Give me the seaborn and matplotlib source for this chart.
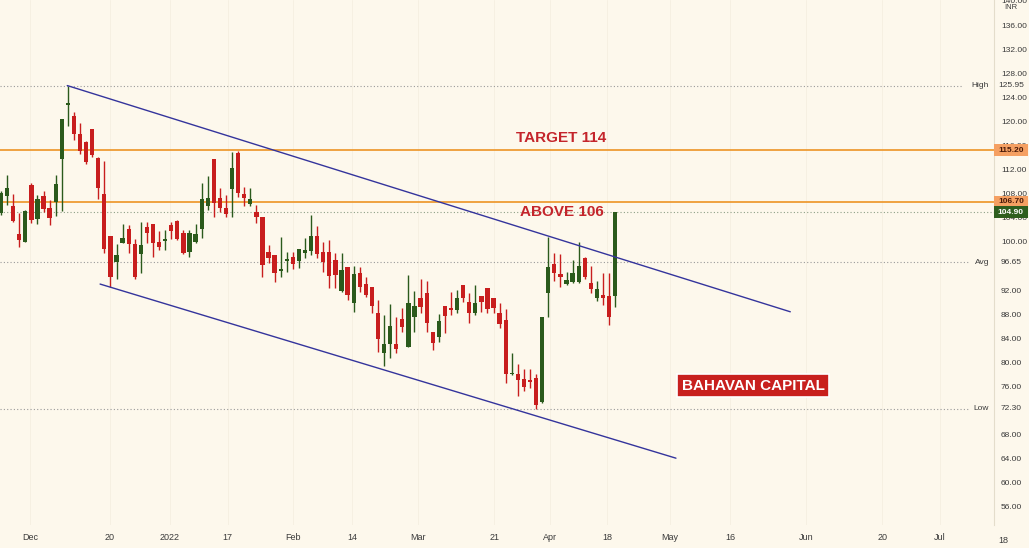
import numpy as np
import pandas as pd
import matplotlib
matplotlib.use("Agg")
import matplotlib.pyplot as plt
import matplotlib.transforms as mtransforms
import matplotlib.patches as mpatches
import seaborn as sns

# ==========================================
# DATOS (velas diarias)
# ==========================================
opens = [104.8, 107.7, 106.0, 101.3, 100.0, 109.4, 103.8, 107.6, 105.6, 106.6,
         113.8, 122.8, 120.9, 117.9, 116.6, 118.7, 113.9, 108.0, 101.0, 96.7,
         99.8, 102.1, 99.6, 98.0, 102.5, 103.0, 100.0, 100.2, 102.8, 103.5,
         101.5, 98.3, 100.0, 102.1, 105.9, 113.8, 107.3, 105.6, 108.8, 114.8,
         108.0, 106.3, 105.0, 104.1, 98.3, 97.8, 95.2, 96.8, 97.5, 96.8,
         98.2, 98.5, 101.0, 98.3, 98.3, 97.0, 91.8, 95.8, 89.9, 94.8,
         93.0, 92.5, 88.2, 81.6, 83.1, 83.1, 87.2, 82.6, 87.5, 90.7,
         91.5, 85.0, 84.2, 89.4, 89.1, 88.7, 92.8, 90.0, 88.2, 91.0,
         92.3, 90.7, 88.2, 87.0, 78.0, 78.1, 77.2, 77.0, 77.4, 73.4,
         91.5, 96.3, 94.7, 93.0, 93.3, 93.3, 97.3, 93.2, 90.7, 91.2,
         91.0, 91.0]
highs = [108.4, 111.1, 108.0, 104.8, 105.3, 109.8, 107.8, 108.4, 107.0, 111.1,
         120.4, 125.95, 121.6, 119.7, 116.7, 118.7, 114.1, 113.4, 101.0, 99.7,
         103.0, 102.8, 100.5, 103.3, 103.3, 103.0, 101.8, 102.0, 103.3, 103.7,
         102.0, 102.0, 103.0, 109.8, 110.9, 113.8, 108.9, 107.8, 114.9, 115.1,
         109.1, 108.9, 106.1, 104.1, 99.5, 97.8, 100.8, 98.3, 98.3, 98.8,
         100.6, 104.5, 102.7, 100.0, 100.3, 98.2, 98.2, 95.8, 96.0, 95.8,
         94.2, 92.5, 90.4, 87.9, 89.7, 87.5, 89.0, 94.5, 91.8, 93.8,
         93.5, 85.0, 88.0, 89.4, 91.7, 92.0, 92.8, 91.5, 92.8, 91.0,
         92.3, 90.7, 89.9, 88.9, 81.6, 79.7, 78.9, 78.9, 78.1, 87.5,
         100.8, 98.2, 98.0, 95.0, 97.0, 100.0, 97.5, 96.0, 93.5, 94.8,
         94.8, 104.9]
lows = [104.5, 106.1, 103.3, 99.2, 100.0, 103.1, 103.0, 105.0, 102.8, 104.3,
        105.1, 119.2, 116.9, 114.6, 112.9, 114.1, 107.2, 98.2, 92.5, 93.8,
        99.8, 98.2, 93.8, 94.8, 99.8, 97.5, 98.7, 98.7, 100.5, 100.3,
        98.0, 97.5, 99.8, 100.6, 105.3, 104.1, 105.0, 104.1, 104.1, 107.5,
        106.0, 106.0, 103.1, 94.2, 96.5, 93.3, 94.2, 95.0, 95.5, 95.7,
        97.3, 97.8, 97.3, 95.0, 92.3, 92.3, 91.7, 90.4, 88.4, 91.7,
        90.9, 88.2, 81.7, 79.4, 80.7, 81.6, 85.0, 82.6, 85.0, 88.2,
        85.0, 82.0, 83.4, 84.9, 87.9, 88.2, 90.0, 86.5, 87.9, 88.4,
        88.2, 88.2, 85.7, 76.6, 77.9, 74.4, 75.3, 75.7, 72.3, 73.2,
        87.6, 93.5, 92.5, 92.8, 93.2, 93.2, 93.8, 91.5, 90.2, 89.5,
        86.2, 89.2]
closes = [108.1, 109.0, 103.5, 100.3, 105.1, 103.6, 107.1, 105.5, 104.0, 109.6,
          120.4, 123.0, 117.9, 115.1, 113.3, 114.4, 108.9, 98.8, 94.2, 97.8,
          100.6, 99.6, 94.2, 99.5, 101.5, 99.8, 99.2, 100.4, 101.8, 100.5,
          98.2, 101.5, 101.3, 107.1, 107.3, 106.5, 105.6, 104.6, 112.3, 108.1,
          107.3, 107.1, 104.1, 96.2, 97.3, 94.8, 95.4, 97.2, 96.3, 98.8,
          98.7, 101.0, 98.0, 96.7, 94.3, 94.5, 95.3, 91.2, 94.7, 92.5,
          91.2, 89.4, 83.9, 83.1, 86.0, 82.2, 85.9, 89.9, 89.4, 89.2,
          86.5, 83.2, 86.9, 87.7, 88.7, 90.7, 90.7, 88.2, 89.9, 90.0,
          88.9, 89.0, 86.4, 78.1, 78.3, 77.1, 75.9, 76.8, 72.9, 87.5,
          95.8, 94.8, 94.2, 93.7, 94.8, 96.0, 94.2, 92.2, 92.2, 90.7,
          87.5, 104.9]

# niveles horizontales
target_level = 115.20
above_level = 106.70
last_price = 104.90
high_level = 125.95
avg_level = 96.65
low_level = 72.30

# canal bajista (dos puntos por línea, en índice de vela)
upper_x = [10.9, 129.8]
upper_y = [125.95, 88.4]
lower_x = [16.3, 111.0]
lower_y = [93.0, 64.1]

# eje de fechas
tick_labels = ["Dec", "20", "2022", "17", "Feb", "14", "Mar", "21", "Apr", "18",
               "May", "16", "Jun", "20", "Jul", "18"]
tick_pos = [4.8, 17.9, 27.8, 37.3, 48.0, 57.7, 68.6, 81.1, 90.3, 99.7,
            110.0, 119.9, 132.4, 144.9, 154.4, 164.8]

price_ticks = [140, 136, 132, 128, 124, 120, 116, 112, 108, 104, 100,
               92, 88, 84, 80, 76, 68, 64, 60, 56]

# ==========================================
# CONFIGURACIÓN VISUAL
# ==========================================
BG = "#FDF8EC"
GREEN = "#2B5A1C"
RED = "#C81E1E"
ORANGE = "#EE9B33"
NAVY = "#34349C"
TXT_RED = "#C4252B"
GRIS = "#3A3A3A"
FS = 6

sns.set_theme(style="white", rc={"axes.facecolor": BG, "figure.facecolor": BG})
plt.rcParams["font.family"] = ["Liberation Sans Narrow", "Liberation Sans", "DejaVu Sans"]

df = pd.DataFrame({"open": opens, "high": highs, "low": lows, "close": closes})
df["bar"] = np.arange(len(df))
df["up"] = df["close"] >= df["open"]
colores = np.where(df["up"], GREEN, RED)

fig = plt.figure(figsize=(10.29, 5.48), dpi=100)
ax = fig.add_axes([0.0, 23 / 548, 994 / 1029, 525 / 548])
ax.set_xlim(-0.16, 163.3)
ax.set_ylim(53.01, 140.15)

# rejilla vertical muy tenue
for p in tick_pos:
    ax.axvline(p, color="#F6F0E2", lw=0.7, zorder=0)

# líneas de referencia
ax.axhline(high_level, xmax=0.968, color="#9A9A9A", lw=0.8, ls=(0, (1, 2)), zorder=1)
ax.axhline(avg_level, xmax=0.975, color="#9A9A9A", lw=0.8, ls=(0, (1, 2)), zorder=1)
ax.axhline(low_level, xmax=0.975, color="#9A9A9A", lw=0.8, ls=(0, (1, 2)), zorder=1)
ax.axhline(last_price, color="#8FA088", lw=0.8, ls=(0, (1, 2)), zorder=1)
ax.axhline(target_level, color=ORANGE, lw=1.3, zorder=2)
ax.axhline(above_level, color=ORANGE, lw=1.3, zorder=2)

# velas
ax.vlines(df["bar"], df["low"], df["high"], colors=colores, lw=1.0, zorder=3)
cuerpo = np.maximum((df["close"] - df["open"]).abs(), 0.25)
ax.bar(df["bar"], cuerpo, bottom=np.minimum(df["open"], df["close"]),
       width=0.7, color=colores, lw=0, zorder=4)

# canal
sns.lineplot(x=upper_x, y=upper_y, ax=ax, color=NAVY, lw=1.0, zorder=5)
sns.lineplot(x=lower_x, y=lower_y, ax=ax, color=NAVY, lw=1.0, zorder=5)

# textos
ax.text(92.1, 117.2, "TARGET 114", color=TXT_RED, fontsize=11, fontweight="bold",
        family=["Liberation Sans", "DejaVu Sans"], ha="center", va="center", zorder=6)
ax.text(92.3, 105.0, "ABOVE 106", color=TXT_RED, fontsize=11, fontweight="bold",
        family=["Liberation Sans", "DejaVu Sans"], ha="center", va="center", zorder=6)
ax.text(123.7, 76.1, "BAHAVAN CAPITAL", color="white", fontsize=11, fontweight="bold",
        family=["Liberation Sans", "DejaVu Sans"], ha="center", va="center", zorder=6,
        bbox=dict(boxstyle="square,pad=0.3", fc="#C8201E", ec="white", lw=1.2))

# eje de precios a la derecha
ax.yaxis.tick_right()
ax.set_yticks(price_ticks)
ax.set_yticklabels([f"{v:.2f}" for v in price_ticks])
ax.tick_params(axis="y", length=0, pad=5, labelsize=FS, labelcolor=GRIS)
ax.set_xticks([p for p in tick_pos if p <= 163.3])
ax.set_xticklabels([l for l, p in zip(tick_labels, tick_pos) if p <= 163.3])
ax.tick_params(axis="x", length=0, pad=6, labelsize=6.5, labelcolor=GRIS)
tr_x = mtransforms.blended_transform_factory(ax.transData, ax.transAxes)
for l, p in zip(tick_labels, tick_pos):
    if p > 163.3:
        ax.text(p, -0.0215, l, transform=tr_x, ha="center", va="top",
                fontsize=6.5, color=GRIS, clip_on=False)

for s in ["top", "left", "bottom"]:
    ax.spines[s].set_visible(False)
ax.spines["right"].set_color("#E4DDCB")
ax.spines["right"].set_linewidth(0.8)

tr = mtransforms.blended_transform_factory(ax.transAxes, ax.transData)

# etiquetas High / Avg / Low
for nivel, nombre in [(high_level, "High"), (avg_level, "Avg"), (low_level, "Low")]:
    ax.text(0.995, nivel, nombre, transform=tr, ha="right", va="center",
            fontsize=FS, color=GRIS, clip_on=False)
    ax.add_patch(mpatches.Rectangle((1.002, nivel - 1.0), 0.03, 2.0, transform=tr,
                                    fc=BG, ec="none", clip_on=False, zorder=7))
    ax.text(1.017, nivel, f"{nivel:.2f}", transform=tr, ha="center", va="center",
            fontsize=FS, color=GRIS, clip_on=False, zorder=8)

# etiquetas con caja
for nivel, fondo, color_txt in [(target_level, "#F5A062", "#4A1A08"),
                                (above_level, "#F5A062", "#4A1A08"),
                                (last_price, "#2E5E1E", "white")]:
    ax.add_patch(mpatches.Rectangle((1.0, nivel - 1.0), 0.0345, 2.0, transform=tr,
                                    fc=fondo, ec="none", clip_on=False, zorder=7))
    ax.text(1.017, nivel, f"{nivel:.2f}", transform=tr, ha="center", va="center",
            fontsize=FS, color=color_txt, fontweight="bold", clip_on=False, zorder=8)

ax.text(1.017, 0.993, "INR", transform=ax.transAxes, ha="center", va="top",
        fontsize=5.5, color=GRIS, clip_on=False, zorder=8,
        bbox=dict(boxstyle="square,pad=0.1", fc=BG, ec="none"))

ax.set_xlabel("")
ax.set_ylabel("")
if ax.get_legend() is not None:
    ax.get_legend().remove()

plt.savefig("out.png", dpi=100, facecolor=BG)
